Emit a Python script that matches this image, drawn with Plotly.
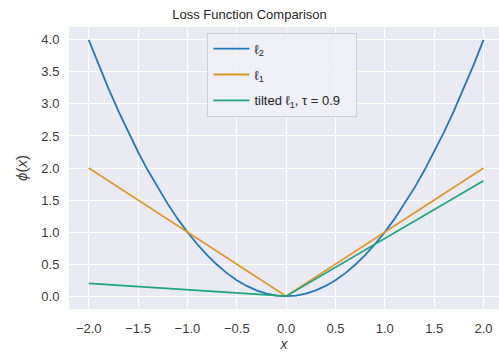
import plotly.graph_objects as go

x_quad = [-2.0, -1.9, -1.8, -1.7, -1.6, -1.5, -1.4, -1.3, -1.2, -1.1, -1.0,
          -0.9, -0.8, -0.7, -0.6, -0.5, -0.4, -0.3, -0.2, -0.1, 0.0,
          0.1, 0.2, 0.3, 0.4, 0.5, 0.6, 0.7, 0.8, 0.9, 1.0,
          1.1, 1.2, 1.3, 1.4, 1.5, 1.6, 1.7, 1.8, 1.9, 2.0]
l2_vals = [4.00, 3.61, 3.24, 2.89, 2.56, 2.25, 1.96, 1.69, 1.44, 1.21, 1.00,
           0.81, 0.64, 0.49, 0.36, 0.25, 0.16, 0.09, 0.04, 0.01, 0.00,
           0.01, 0.04, 0.09, 0.16, 0.25, 0.36, 0.49, 0.64, 0.81, 1.00,
           1.21, 1.44, 1.69, 1.96, 2.25, 2.56, 2.89, 3.24, 3.61, 4.00]
x_lin = [-2.0, 0.0, 2.0]
l1_vals = [2.0, 0.0, 2.0]
tilted_vals = [0.2, 0.0, 1.8]

x_ticks = [-2.0, -1.5, -1.0, -0.5, 0.0, 0.5, 1.0, 1.5, 2.0]
y_ticks = [0.0, 0.5, 1.0, 1.5, 2.0, 2.5, 3.0, 3.5, 4.0]

fig = go.Figure()
fig.add_trace(go.Scatter(x=x_quad, y=l2_vals, mode="lines", name="ℓ<sub>2</sub>",
                         legendgroup="a", line=dict(color="#1f78b8", width=1.8)))
fig.add_trace(go.Scatter(x=x_lin, y=l1_vals, mode="lines", name="ℓ<sub>1</sub>",
                         legendgroup="b", line=dict(color="#e0982a", width=1.8)))
fig.add_trace(go.Scatter(x=x_lin, y=tilted_vals, mode="lines",
                         name="tilted ℓ<sub>1</sub>, τ = 0.9   ",
                         legendgroup="c", line=dict(color="#1fa57d", width=1.8)))

font_fam = "Liberation Sans, Arial, sans-serif"
fig.update_layout(
    width=499, height=352,
    margin=dict(l=69, r=0, t=27, b=43),
    paper_bgcolor="white",
    plot_bgcolor="#EAEAF2",
    font=dict(family=font_fam, size=13, color="#3a3a3a"),
    title=dict(text="Loss Function Comparison", x=0.5, xanchor="center",
               y=0.96, yanchor="middle", font=dict(size=13, color="#262626")),
    xaxis=dict(range=[-2.2, 2.157], tickvals=x_ticks,
               ticktext=[f"{v:.1f}".replace("-", "−") for v in x_ticks],
               showgrid=True, gridcolor="white", gridwidth=1, zeroline=False,
               showline=False, ticks="outside", ticklen=7, tickcolor="rgba(0,0,0,0)",
               title=dict(text="<i>x</i>", standoff=2, font=dict(size=14))),
    yaxis=dict(range=[-0.2, 4.2], tickvals=y_ticks,
               ticktext=[f"{v:.1f}" for v in y_ticks],
               showgrid=True, gridcolor="white", gridwidth=1, zeroline=False,
               showline=False, ticks="outside", ticklen=6, tickcolor="rgba(0,0,0,0)",
               title=dict(text="<i>ϕ</i>(<i>x</i>)", standoff=10, font=dict(size=15))),
    legend=dict(x=0.322, y=0.98, xanchor="left", yanchor="top",
                bgcolor="rgba(240,240,246,0.9)", bordercolor="#d0d0d0", borderwidth=1,
                font=dict(size=13, color="#262626"), tracegroupgap=6, itemwidth=36),
    showlegend=True,
)

fig.write_html("out.html")
